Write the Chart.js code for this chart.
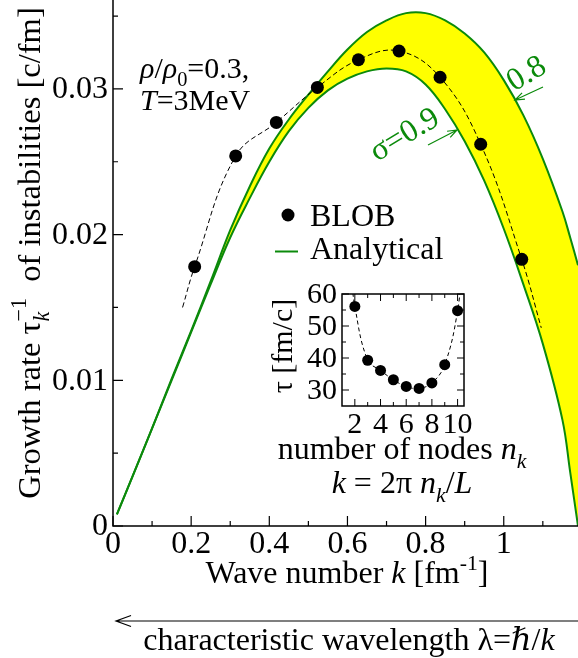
<!DOCTYPE html>
<html>
<head>
<meta charset="utf-8">
<script src="https://cdn.jsdelivr.net/npm/chart.js@4.4.0/dist/chart.umd.min.js"></script>
<style>
  body { margin: 0; background: #fff; }
  #wrap { position: relative; width: 578px; height: 658px; }
  #main { position: absolute; left: 0; top: 0; }
  #inset { position: absolute; left: 250px; top: 280px; }
</style>
</head>
<body>
<div id="wrap">
  <canvas id="main" width="578" height="658"></canvas>
  <canvas id="inset" width="300" height="230"></canvas>
</div>
<script>
// BLOB simulation points, k = 2 pi n_k / L
const kBlob = [0.209, 0.314, 0.418, 0.523, 0.628, 0.732, 0.837, 0.941, 1.046];
const rateBlob = [0.0178, 0.0254, 0.0277, 0.0301, 0.0320, 0.0326, 0.0308, 0.0262, 0.0183];

// dashed guide line through the points (ends)
const kFit = [0.178, 0.209, 0.314, 0.418, 0.523, 0.628, 0.732, 0.837, 0.941, 1.046, 1.096];
const rateFit = [0.0150, 0.0178, 0.0254, 0.0277, 0.0301, 0.0320, 0.0326, 0.0308, 0.0262, 0.0183, 0.0136];

// analytical band, sigma = 0.9 (lower) and sigma = 0.8 (upper)
const kGrid = [0.01, 0.05, 0.1, 0.15, 0.2, 0.25, 0.3, 0.35, 0.4, 0.45, 0.5, 0.55, 0.6, 0.65, 0.7,
               0.75, 0.8, 0.85, 0.9, 0.95, 1.0, 1.05, 1.1, 1.15, 1.17, 1.19];
const rateSig09 = [0.0008, 0.0034, 0.0067, 0.0100, 0.0133, 0.0166, 0.0198, 0.0225, 0.0250, 0.0271, 0.0287,
                   0.0299, 0.0307, 0.0312, 0.0314, 0.0312, 0.0303, 0.0286, 0.0264, 0.0237, 0.0204, 0.0166,
                   0.0125, 0.0073, 0.0037, 0.0];
const rateSig08 = [0.0008, 0.0034, 0.0067, 0.0101, 0.0134, 0.0168, 0.0203, 0.0233, 0.0259, 0.0279, 0.0296,
                   0.0312, 0.0327, 0.0339, 0.0347, 0.0352, 0.0352, 0.0347, 0.0338, 0.0325, 0.0306, 0.0282,
                   0.0252, 0.0216, 0.0198, 0.0179];

// main axis ticks
const xMajor = [0, 0.2, 0.4, 0.6, 0.8, 1.0];
const xLabels = ['0', '0.2', '0.4', '0.6', '0.8', '1'];
const xMinor = [0.1, 0.3, 0.5, 0.7, 0.9, 1.1];
const yMajor = [0, 0.01, 0.02, 0.03];
const yLabels = ['0', '0.01', '0.02', '0.03'];
const yMinor = [0.005, 0.015, 0.025, 0.035];

// inset: growth time vs number of nodes
const nodes = [2, 3, 4, 5, 6, 7, 8, 9, 10];
const tau = [56.1, 39.3, 36.1, 33.2, 31.1, 30.5, 32.2, 37.9, 54.8];
const nFit = [1.7, 2, 3, 4, 5, 6, 7, 8, 9, 10, 10.48];
const tauFit = [66.9, 56.1, 39.3, 36.1, 33.2, 31.1, 30.5, 32.2, 37.9, 54.8, 73.8];
const inXMajor = [2, 4, 6, 8, 10];
const inXMinor = [3, 5, 7, 9];
const inYMajor = [30, 40, 50, 60];
const inYMinor = [35, 45, 55];

const GREEN = '#0b8a0b';
const YELLOW = '#ffff00';

function pts(xs, ys) {
  return xs.map(function(v, i) { return { x: v, y: ys[i] }; });
}

function font(sz, it) {
  return (it ? 'italic ' : '') + sz + 'px "Liberation Serif", "DejaVu Serif", serif';
}

// draws a list of text pieces with italic / sub / sup / stacked sub+sup
function rich(ctx, parts, x, y, size, align) {
  const small = size * 0.68;
  let total = 0;
  const widths = parts.map(function(p) {
    let w;
    if (p.stack) {
      ctx.font = font(small, true);
      const a = ctx.measureText(p.sub).width;
      ctx.font = font(small, false);
      const b = ctx.measureText(p.sup).width;
      w = Math.max(a, b);
    } else {
      ctx.font = font(p.sub || p.sup ? small : size, p.it);
      w = ctx.measureText(p.t).width;
    }
    total += w;
    return w;
  });
  let cx = x;
  if (align === 'center') cx = x - total / 2;
  if (align === 'right') cx = x - total;
  ctx.textAlign = 'left';
  ctx.textBaseline = 'alphabetic';
  parts.forEach(function(p, i) {
    if (p.stack) {
      ctx.font = font(small, true);
      ctx.fillText(p.sub, cx, y + size * 0.28);
      ctx.font = font(small, false);
      ctx.fillText(p.sup, cx, y - size * 0.42);
    } else if (p.sub) {
      ctx.font = font(small, p.it);
      ctx.fillText(p.t, cx, y + size * 0.28);
    } else if (p.sup) {
      ctx.font = font(small, p.it);
      ctx.fillText(p.t, cx, y - size * 0.42);
    } else {
      ctx.font = font(size, p.it);
      ctx.fillText(p.t, cx, y);
    }
    cx += widths[i];
  });
}

function arrow(ctx, x1, y1, x2, y2, len) {
  const ang = Math.atan2(y2 - y1, x2 - x1);
  ctx.beginPath();
  ctx.moveTo(x1, y1);
  ctx.lineTo(x2, y2);
  ctx.moveTo(x2 - len * Math.cos(ang - 0.35), y2 - len * Math.sin(ang - 0.35));
  ctx.lineTo(x2, y2);
  ctx.lineTo(x2 - len * Math.cos(ang + 0.35), y2 - len * Math.sin(ang + 0.35));
  ctx.stroke();
}

const mainDeco = {
  id: 'mainDeco',
  afterDraw(chart) {
    const ctx = chart.ctx;
    const a = chart.chartArea;
    const x = chart.scales.x, y = chart.scales.y;
    ctx.save();
    ctx.strokeStyle = '#000';
    ctx.fillStyle = '#000';
    ctx.lineWidth = 1.5;
    ctx.beginPath();
    ctx.moveTo(a.left, a.top);
    ctx.lineTo(a.left, a.bottom);
    ctx.lineTo(a.right, a.bottom);
    ctx.stroke();

    ctx.lineWidth = 1.2;
    ctx.beginPath();
    xMajor.forEach(function(v) { const p = x.getPixelForValue(v); ctx.moveTo(p, a.bottom); ctx.lineTo(p, a.bottom - 10); });
    xMinor.forEach(function(v) { const p = x.getPixelForValue(v); ctx.moveTo(p, a.bottom); ctx.lineTo(p, a.bottom - 5); });
    yMajor.forEach(function(v) { const p = y.getPixelForValue(v); ctx.moveTo(a.left, p); ctx.lineTo(a.left + 10, p); });
    yMinor.forEach(function(v) { const p = y.getPixelForValue(v); ctx.moveTo(a.left, p); ctx.lineTo(a.left + 5, p); });
    ctx.stroke();

    ctx.font = font(32, false);
    ctx.textAlign = 'center';
    ctx.textBaseline = 'alphabetic';
    xMajor.forEach(function(v, i) { ctx.fillText(xLabels[i], x.getPixelForValue(v), 553); });
    ctx.textAlign = 'right';
    ctx.textBaseline = 'middle';
    yMajor.forEach(function(v, i) { ctx.fillText(yLabels[i], 108, y.getPixelForValue(v) + 1); });

    // axis titles
    rich(ctx, [{ t: 'Wave number ' }, { t: 'k', it: true }, { t: ' [fm' }, { t: '-1', sup: true }, { t: ']' }], 347, 583, 32, 'center');
    ctx.save();
    ctx.translate(40, 253);
    ctx.rotate(-Math.PI / 2);
    rich(ctx, [{ t: 'Growth rate ' }, { t: 'τ' }, { stack: true, sub: 'k', sup: '−1' }, { t: '  of instabilities [c/fm]' }], 0, 0, 32.5, 'center');
    ctx.restore();

    // bottom arrow and wavelength label
    ctx.lineWidth = 1.2;
    arrow(ctx, 578, 621, 116, 621, 16);
    rich(ctx, [{ t: 'characteristic wavelength λ=ℏ/' }, { t: 'k', it: true }], 349, 650, 32, 'center');

    // condition text
    rich(ctx, [{ t: 'ρ', it: true }, { t: '/' }, { t: 'ρ', it: true }, { t: '0', sub: true }, { t: '=0.3,' }], 140, 78, 30, 'left');
    rich(ctx, [{ t: 'T', it: true }, { t: '=3MeV' }], 140, 110, 30, 'left');

    // legend
    ctx.beginPath();
    ctx.arc(288, 215, 6.5, 0, Math.PI * 2);
    ctx.fill();
    ctx.font = font(32, false);
    ctx.textAlign = 'left';
    ctx.textBaseline = 'alphabetic';
    ctx.fillText('BLOB', 310, 226);
    ctx.fillText('Analytical', 310, 259);
    ctx.strokeStyle = GREEN;
    ctx.lineWidth = 2;
    ctx.beginPath();
    ctx.moveTo(275, 251.5);
    ctx.lineTo(298, 251.5);
    ctx.stroke();

    // sigma labels with arrows
    ctx.fillStyle = GREEN;
    ctx.lineWidth = 1.2;
    ctx.save();
    ctx.translate(404, 134);
    ctx.rotate(-31 * Math.PI / 180);
    rich(ctx, [{ t: 'σ=0.9' }], 0, 10, 32, 'center');
    ctx.restore();
    ctx.save();
    ctx.translate(526, 73);
    ctx.rotate(-31 * Math.PI / 180);
    rich(ctx, [{ t: '0.8' }], 0, 10, 32, 'center');
    ctx.restore();
    arrow(ctx, 428, 145, 457, 130, 10);
    arrow(ctx, 543, 87, 515, 100, 10);
    ctx.restore();
  }
};

new Chart(document.getElementById('main'), {
  type: 'line',
  data: {
    datasets: [
      { label: 'sigma 0.9', data: pts(kGrid, rateSig09), borderColor: GREEN, borderWidth: 2, pointRadius: 0,
        tension: 0.4, fill: false, order: 2 },
      { label: 'sigma 0.8', data: pts(kGrid, rateSig08), borderColor: GREEN, borderWidth: 2, pointRadius: 0,
        tension: 0.4, fill: '-1', backgroundColor: YELLOW, order: 3 },
      { label: 'fit', data: pts(kFit, rateFit), borderColor: '#000', borderWidth: 1, borderDash: [5, 3],
        pointRadius: 0, tension: 0.4, fill: false, order: 1 },
      { label: 'BLOB', data: pts(kBlob, rateBlob), showLine: false, pointRadius: 6.5,
        pointBackgroundColor: '#000', pointBorderWidth: 0, order: 0 }
    ]
  },
  options: {
    responsive: false,
    animation: false,
    devicePixelRatio: 1,
    layout: { autoPadding: false, padding: { left: 113, top: 0, right: 0, bottom: 132 } },
    plugins: { legend: { display: false }, tooltip: { enabled: false } },
    scales: {
      x: { type: 'linear', min: 0, max: 1.19, display: false },
      y: { type: 'linear', min: 0, max: 0.0361, display: false }
    }
  },
  plugins: [mainDeco]
});

const insetDeco = {
  id: 'insetDeco',
  afterDraw(chart) {
    const ctx = chart.ctx;
    const a = chart.chartArea;
    const x = chart.scales.x, y = chart.scales.y;
    ctx.save();
    ctx.strokeStyle = '#000';
    ctx.fillStyle = '#000';
    ctx.lineWidth = 1.5;
    ctx.strokeRect(a.left, a.top, a.right - a.left, a.bottom - a.top);
    ctx.lineWidth = 1;
    ctx.beginPath();
    inXMajor.forEach(function(v) {
      const p = x.getPixelForValue(v);
      ctx.moveTo(p, a.bottom); ctx.lineTo(p, a.bottom - 7);
      ctx.moveTo(p, a.top); ctx.lineTo(p, a.top + 7);
    });
    inXMinor.forEach(function(v) {
      const p = x.getPixelForValue(v);
      ctx.moveTo(p, a.bottom); ctx.lineTo(p, a.bottom - 4);
      ctx.moveTo(p, a.top); ctx.lineTo(p, a.top + 4);
    });
    inYMajor.forEach(function(v) {
      const p = y.getPixelForValue(v);
      ctx.moveTo(a.left, p); ctx.lineTo(a.left + 7, p);
      ctx.moveTo(a.right, p); ctx.lineTo(a.right - 7, p);
    });
    inYMinor.forEach(function(v) {
      const p = y.getPixelForValue(v);
      ctx.moveTo(a.left, p); ctx.lineTo(a.left + 4, p);
      ctx.moveTo(a.right, p); ctx.lineTo(a.right - 4, p);
    });
    ctx.stroke();

    ctx.font = font(30, false);
    ctx.textAlign = 'right';
    ctx.textBaseline = 'middle';
    inYMajor.forEach(function(v) { ctx.fillText(String(v), 87, y.getPixelForValue(v) + 1); });
    ctx.textAlign = 'center';
    ctx.textBaseline = 'alphabetic';
    inXMajor.forEach(function(v) { ctx.fillText(String(v), x.getPixelForValue(v), 153); });

    rich(ctx, [{ t: 'number of nodes ' }, { t: 'n', it: true }, { t: 'k', it: true, sub: true }], 152, 179, 32, 'center');
    rich(ctx, [{ t: 'k', it: true }, { t: ' = 2π ' }, { t: 'n', it: true }, { t: 'k', it: true, sub: true }, { t: '/' }, { t: 'L', it: true }], 152, 213, 32, 'center');

    ctx.save();
    ctx.translate(42, 66);
    ctx.rotate(-Math.PI / 2);
    rich(ctx, [{ t: 'τ [fm/c]' }], 0, 0, 30, 'center');
    ctx.restore();
    ctx.restore();
  }
};

new Chart(document.getElementById('inset'), {
  type: 'line',
  data: {
    datasets: [
      { label: 'fit', data: pts(nFit, tauFit), borderColor: '#000', borderWidth: 1, borderDash: [4, 3],
        pointRadius: 0, tension: 0.4, fill: false, order: 1 },
      { label: 'tau', data: pts(nodes, tau), showLine: false, pointRadius: 5.5,
        pointBackgroundColor: '#000', pointBorderWidth: 0, order: 0 }
    ]
  },
  options: {
    responsive: false,
    animation: false,
    devicePixelRatio: 1,
    layout: { autoPadding: false, padding: { left: 92, top: 14, right: 86, bottom: 104 } },
    plugins: { legend: { display: false }, tooltip: { enabled: false } },
    scales: {
      x: { type: 'linear', min: 1, max: 10.5, display: false },
      y: { type: 'linear', min: 25, max: 60, display: false }
    }
  },
  plugins: [insetDeco]
});
</script>
</body>
</html>
